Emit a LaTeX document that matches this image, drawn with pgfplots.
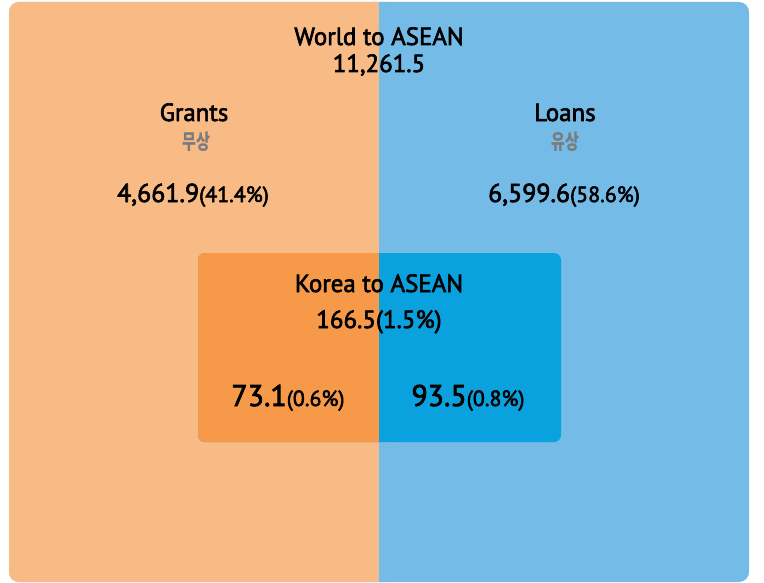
\documentclass[border=0pt]{standalone}
\usepackage{pgfplots}
\pgfplotsset{compat=1.18}
\usepackage{fontspec}
\setmainfont{PT Sans}[FakeBold=2.5]
\newfontfamily\kr[FakeStretch=0.72]{Noto Sans CJK KR}
\definecolor{outO}{HTML}{F8BB86}
\definecolor{outB}{HTML}{74BBE7}
\definecolor{inO}{HTML}{F69A4A}
\definecolor{inB}{HTML}{0AA2DE}
\definecolor{krgrey}{HTML}{7B7B7B}
\newcommand{\fs}[1]{\fontsize{#1}{#1}\selectfont}
\begin{document}
\begin{tikzpicture}
\begin{axis}[width=764bp,height=583bp,scale only axis,
  xmin=0,xmax=764,ymin=0,ymax=583,y dir=reverse,hide axis,clip=false]
% frame of the whole picture
\path (axis cs:0,0) rectangle (axis cs:764,583);
% outer box
\addplot[draw=none,fill=outB,rounded corners=10bp] coordinates {(379,2)(749,2)(749,582)(9,582)(9,2)} -- cycle;
\addplot[draw=none,fill=outO,rounded corners=10bp] coordinates {(200,2)(400,2)(400,582)(9,582)(9,2)} -- cycle;
\addplot[draw=none,fill=outB] coordinates {(379,2)(402,2)(402,582)(379,582)} -- cycle;
% inner box
\addplot[draw=none,fill=inB,rounded corners=7bp] coordinates {(379,253)(561,253)(561,442)(198,442)(198,253)} -- cycle;
\addplot[draw=none,fill=inO,rounded corners=7bp] coordinates {(300,253)(400,253)(400,442)(198,442)(198,253)} -- cycle;
\addplot[draw=none,fill=inB] coordinates {(379,253)(402,253)(402,442)(379,442)} -- cycle;
% texts
\node[anchor=base,inner sep=0pt,font=\fs{25}] at (axis cs:379,45) {World to ASEAN};
\node[anchor=base,inner sep=0pt,font=\fs{25}] at (axis cs:379,72) {11,261.5};
\node[anchor=base,inner sep=0pt,font=\fs{25}] at (axis cs:194,121) {Grants};
\node[anchor=base,inner sep=0pt,font=\fs{25}] at (axis cs:565,121) {Loans};
\node[anchor=base,inner sep=0pt,font=\kr\fs{21}\bfseries,text=krgrey] at (axis cs:196,149) {무상};
\node[anchor=base,inner sep=0pt,font=\kr\fs{21}\bfseries,text=krgrey] at (axis cs:565,149) {유상};
\node[anchor=base,inner sep=0pt] at (axis cs:193,202) {\fs{26}4,661.9\fs{22}(41.4\%)};
\node[anchor=base,inner sep=0pt] at (axis cs:564,202) {\fs{26}6,599.6\fs{22}(58.6\%)};
\node[anchor=base,inner sep=0pt,font=\fs{25}] at (axis cs:379,292) {Korea to ASEAN};
\node[anchor=base,inner sep=0pt,font=\fs{25}] at (axis cs:379,328) {166.5(1.5\%)};
\node[anchor=base,inner sep=0pt] at (axis cs:288,406) {\fs{30}73.1\fs{22}(0.6\%)};
\node[anchor=base,inner sep=0pt] at (axis cs:468,406) {\fs{30}93.5\fs{22}(0.8\%)};
\end{axis}
\end{tikzpicture}
\end{document}
